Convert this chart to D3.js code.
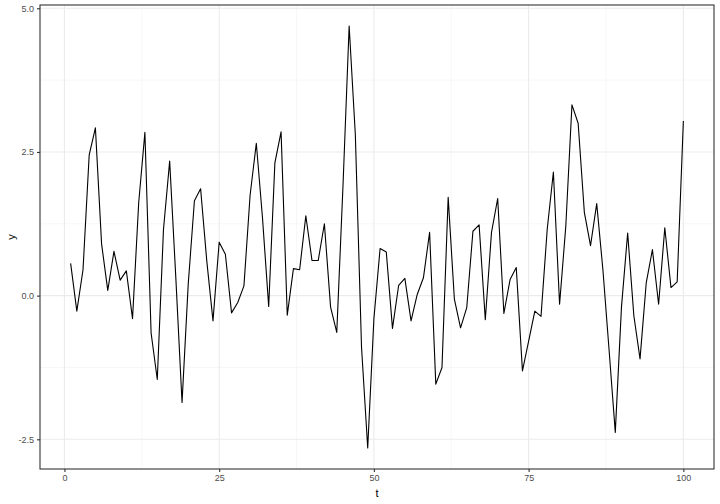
<!DOCTYPE html>
<html><head><meta charset="utf-8">
<script src="https://cdn.jsdelivr.net/npm/d3@7"></script>
<style>body{margin:0;background:#fff}svg{display:block}</style>
</head><body>
<script>
const tValues = d3.range(1, 101);
const yValues = [0.56,-0.27,0.45,2.45,2.92,0.9,0.09,0.77,0.27,0.43,
-0.40,1.62,2.84,-0.65,-1.46,1.15,2.34,0.3,-1.86,0.2,
1.65,1.86,0.6,-0.44,0.93,0.72,-0.30,-0.12,0.17,1.75,
2.65,1.35,-0.19,2.31,2.85,-0.34,0.47,0.45,1.39,0.61,
0.61,1.25,-0.2,-0.64,1.9,4.69,2.8,-0.9,-2.65,-0.4,
0.82,0.76,-0.57,0.18,0.30,-0.44,0.02,0.31,1.10,-1.54,
-1.25,1.71,-0.06,-0.56,-0.21,1.12,1.23,-0.42,1.10,1.69,
-0.31,0.28,0.49,-1.31,-0.79,-0.27,-0.36,1.15,2.15,-0.15,
1.2,3.32,3.0,1.45,0.87,1.60,0.45,-0.95,-2.38,-0.2,
1.09,-0.35,-1.1,0.22,0.80,-0.15,1.18,0.14,0.24,3.04];
const xTicks = [0,25,50,75,100];
const xMinor = [12.5,37.5,62.5,87.5];
const yTicks = [-2.5,0,2.5,5];
const yMinor = [-1.25,1.25,3.75];

const W = 720, H = 504;
const L = 40, R = 714, T = 5, B = 469;
const svg = d3.select("body").append("svg").attr("width", W).attr("height", H);

const xe = d3.extent(tValues), ye = d3.extent(yValues);
const xp = (xe[1]-xe[0])*0.05, yp = (ye[1]-ye[0])*0.05;
const x = d3.scaleLinear().domain([xe[0]-xp, xe[1]+xp]).range([L, R]);
const y = d3.scaleLinear().domain([ye[0]-yp, ye[1]+yp]).range([B, T]);

const g = svg.append("g");
g.selectAll(".vmin").data(xMinor).join("line")
  .attr("x1", d=>x(d)).attr("x2", d=>x(d)).attr("y1", T).attr("y2", B)
  .attr("stroke", "#F2F2F2").attr("stroke-width", 0.6);
g.selectAll(".hmin").data(yMinor).join("line")
  .attr("y1", d=>y(d)).attr("y2", d=>y(d)).attr("x1", L).attr("x2", R)
  .attr("stroke", "#F2F2F2").attr("stroke-width", 0.6);
g.selectAll(".vmaj").data(xTicks).join("line")
  .attr("x1", d=>x(d)).attr("x2", d=>x(d)).attr("y1", T).attr("y2", B)
  .attr("stroke", "#EBEBEB").attr("stroke-width", 1.1);
g.selectAll(".hmaj").data(yTicks).join("line")
  .attr("y1", d=>y(d)).attr("y2", d=>y(d)).attr("x1", L).attr("x2", R)
  .attr("stroke", "#EBEBEB").attr("stroke-width", 1.1);

const line = d3.line().x((d,i)=>x(tValues[i])).y(d=>y(d));
svg.append("path").datum(yValues).attr("d", line)
  .attr("fill", "none").attr("stroke", "#000").attr("stroke-width", 1.1)
  .attr("stroke-linejoin", "round");

svg.append("rect").attr("x", L).attr("y", T).attr("width", R-L).attr("height", B-T)
  .attr("fill", "none").attr("stroke", "#333333").attr("stroke-width", 1.1);

const xAxis = d3.axisBottom(x).tickValues(xTicks).tickSize(3).tickPadding(3).tickFormat(d3.format("d"));
const yAxis = d3.axisLeft(y).tickValues(yTicks).tickSize(3).tickPadding(3).tickFormat(d3.format(".1f"));
const gx = svg.append("g").attr("transform", `translate(0,${B})`).call(xAxis);
const gy = svg.append("g").attr("transform", `translate(${L},0)`).call(yAxis);
[gx, gy].forEach(a => {
  a.select(".domain").remove();
  a.selectAll(".tick line").attr("stroke", "#333333").attr("stroke-width", 1.1);
  a.selectAll(".tick text").attr("fill", "#4D4D4D")
    .style("font-family", "'Liberation Sans', Arial, sans-serif").style("font-size", "9px");
});
gy.selectAll(".tick text").text(d => d3.format(".1f")(d).replace("−","-"));

svg.append("text").attr("x", (L+R)/2).attr("y", 497).attr("text-anchor", "middle")
  .style("font-family", "'Liberation Sans', Arial, sans-serif").style("font-size", "11px")
  .attr("fill", "#000").text("t");
svg.append("text").attr("transform", `translate(15,${(T+B)/2}) rotate(-90)`).attr("text-anchor", "middle")
  .style("font-family", "'Liberation Sans', Arial, sans-serif").style("font-size", "11px")
  .attr("fill", "#000").text("y");
</script>
</body></html>
